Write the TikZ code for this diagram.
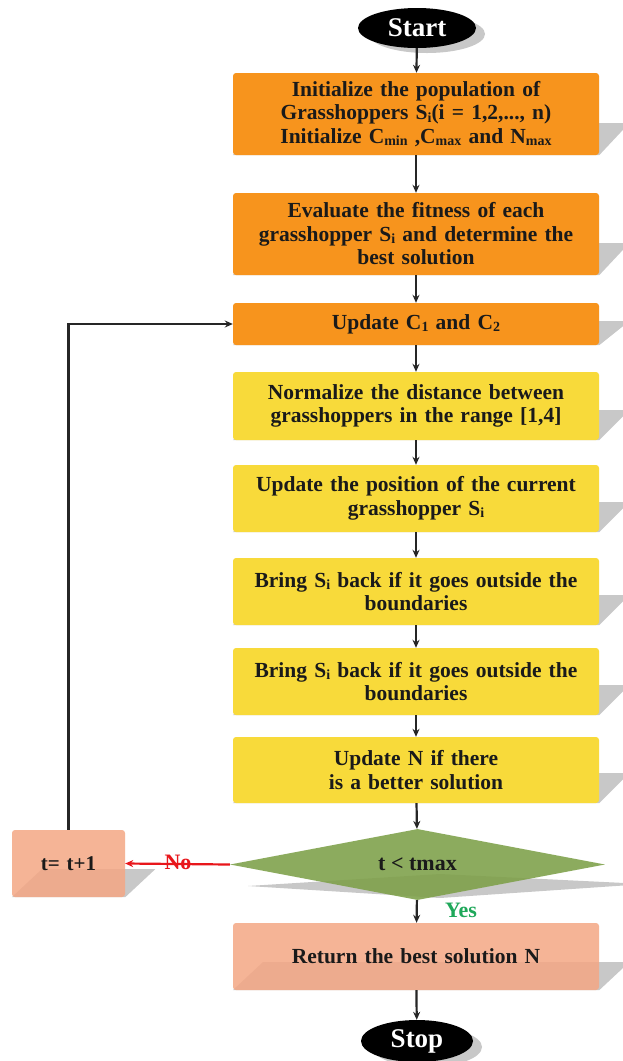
\documentclass[tikz,border=0pt]{standalone}
\usepackage{fontspec}
\setmainfont{Liberation Serif}
\usetikzlibrary{shapes.geometric,arrows.meta,calc}
\definecolor{orng}{HTML}{F7941D}
\definecolor{yllw}{HTML}{F8DA3A}
\definecolor{grn}{HTML}{7DA048}
\definecolor{slmn}{HTML}{F4A784}
\definecolor{shd}{HTML}{C8C8C8}
\definecolor{txt}{HTML}{1A1A1A}
\definecolor{yesg}{HTML}{1FA85A}
\definecolor{nored}{HTML}{E8161B}
\newcommand{\lo}[1]{\raisebox{-0.25ex}{\fontsize{14}{14}\selectfont #1}}
\pgfdeclarelayer{bg}
\pgfsetlayers{bg,main}
\begin{document}
\begin{tikzpicture}[x=1pt,y=-1pt,
  box/.style={rectangle, rounded corners=3pt, minimum width=366pt, text width=364pt,
    align=center, inner sep=0pt, text=txt, font=\bfseries\fontsize{21.5}{23.5}\selectfont},
  obox/.style={box, fill=orng},
  ybox/.style={box, fill=yllw},
  sbox/.style={box, fill=slmn, fill opacity=0.85, text opacity=1},
  term/.style={ellipse, fill=black, text=white, inner sep=0pt, font=\bfseries\fontsize{27}{27}\selectfont},
  arr/.style={-{Stealth[length=8pt,width=7pt]}, line width=2.2pt, draw=black!85},
  lbl/.style={font=\bfseries\fontsize{22}{22}\selectfont, inner sep=0pt},
]
\clip (0,0) rectangle (623,1061);

\node[term, minimum width=118pt, minimum height=40pt] (start) at (417,28) {Start};
\node[obox, minimum height=82pt] (b1) at (416,114) {Initialize the population of\\ Grasshoppers S\lo{i}(i = 1,2,..., n)\\ Initialize C\lo{min} ,C\lo{max} and N\lo{max}};
\node[obox, minimum height=82pt] (b2) at (416,234) {Evaluate the fitness of each\\ grasshopper S\lo{i} and determine the\\ best solution};
\node[obox, minimum height=42pt] (b3) at (416,324) {Update C\lo{1} and C\lo{2}};
\node[ybox, minimum height=68pt] (b4) at (416,406) {Normalize the distance between\\ grasshoppers in the range [1,4]};
\node[ybox, minimum height=67pt] (b5) at (416,498.5) {Update the position of the current\\ grasshopper S\lo{i}};
\node[ybox, minimum height=67pt] (b6) at (416,591.5) {Bring S\lo{i} back if it goes outside the\\ boundaries};
\node[ybox, minimum height=67pt] (b7) at (416,681.5) {Bring S\lo{i} back if it goes outside the\\ boundaries};
\node[ybox, minimum height=66pt] (b8) at (416,770) {Update N if there\\ is a better solution};
\node[diamond, aspect=5.3, fill=grn, fill opacity=0.88, text opacity=1, text=txt, minimum width=375pt, minimum height=71pt, inner sep=0pt, font=\bfseries\fontsize{22}{22}\selectfont] (dec) at (417.5,864.5) {t < tmax};
\node[sbox, minimum height=67pt] (ret) at (416,956.5) {Return the best solution N};
\node[sbox, minimum width=113pt, text width=110pt, minimum height=67pt, font=\bfseries\fontsize{21}{21}\selectfont] (tb) at (68.5,863.5) {t= t+1};
\node[term, minimum width=112pt, minimum height=42pt] (stop) at (417,1041) {Stop};

\node[lbl, text=nored] (no) at (178,862) {No};
\node[lbl, text=yesg] (yes) at (461,910) {Yes};

\begin{pgfonlayer}{bg}
\fill[white] (0,0) rectangle (623,1061);
\foreach \n/\d in {b1/32,b2/32,b3/24,b4/30,b5/30,b6/30,b7/30,b8/30,ret/28,tb/28}{
  \fill[shd] (\n.south west) -- ($(\n.south west)+(30,-\d)$) -- ($(\n.south east)+(30,-\d)$) -- (\n.south east) -- cycle;
}
\fill[shd] ($(start.center)+(10,6)$) ellipse [x radius=58pt, y radius=19pt];
\fill[shd] ($(stop.center)+(10,6)$) ellipse [x radius=55pt, y radius=20pt];
\fill[shd] (248,886) -- (440,874) -- (645,884) -- (440,898) -- cycle;
\end{pgfonlayer}

\draw[arr] (start) -- (b1);
\draw[arr] (b1) -- (b2);
\draw[arr] (b2) -- (b3);
\draw[arr] (b3) -- (b4);
\draw[arr] (b4) -- (b5);
\draw[arr] (b5) -- (b6);
\draw[arr] (b6) -- (b7);
\draw[arr] (b7) -- (b8);
\draw[arr] (b8) -- (dec);
\draw[arr] (dec) -- (ret);
\draw[arr] (ret) -- (stop);
\draw[arr] (tb.north) |- (b3.west);
\draw[-{Stealth[length=8pt,width=7pt]}, line width=2.2pt, draw=nored] (dec.west) -- (tb.east);
\end{tikzpicture}
\end{document}
